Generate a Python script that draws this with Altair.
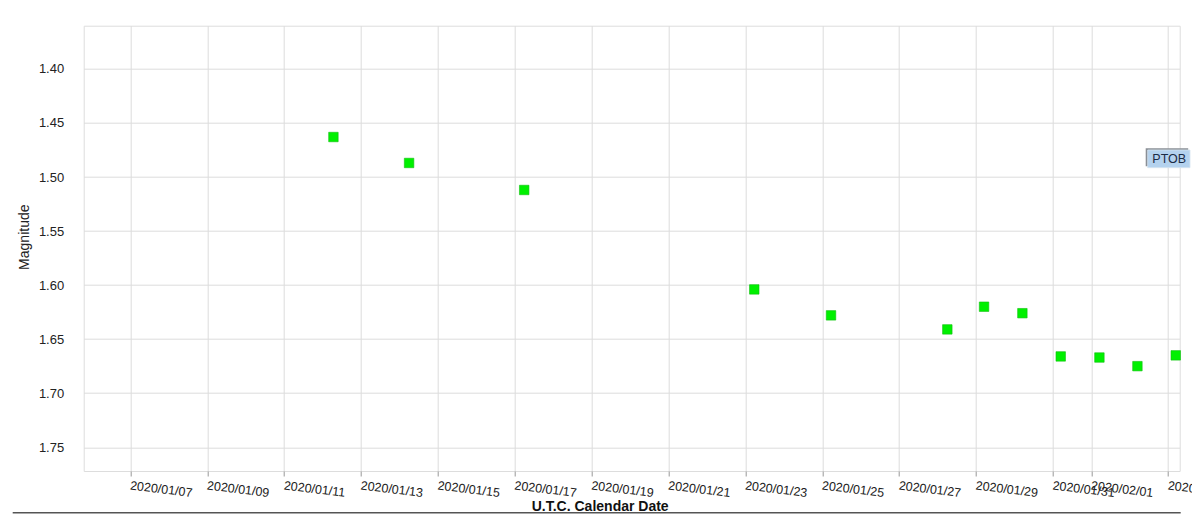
import altair as alt
import pandas as pd

# Observation times (UTC) and visual magnitudes
obs_times = [
    "2020-01-12T06:45:00Z", "2020-01-14T06:00:00Z", "2020-01-17T05:53:00Z",
    "2020-01-23T05:33:00Z", "2020-01-25T05:28:00Z", "2020-01-28T06:06:00Z",
    "2020-01-29T05:02:00Z", "2020-01-30T04:58:00Z", "2020-01-31T04:54:00Z",
    "2020-02-01T05:04:00Z", "2020-02-02T04:48:00Z", "2020-02-03T04:44:00Z",
]
magnitudes = [1.463, 1.487, 1.512, 1.604, 1.628, 1.641,
              1.620, 1.626, 1.666, 1.667, 1.675, 1.665]
observer = ["PTOB"] * len(magnitudes)
y_ticks = [1.40, 1.45, 1.50, 1.55, 1.60, 1.65, 1.70, 1.75]

df = pd.DataFrame({"date": obs_times, "mag": magnitudes, "obs": observer})
legend_df = pd.DataFrame({"obs": [observer[0]]})

FONT = "Liberation Sans"
W, H = 1096, 445.3

points = alt.Chart(df).mark_square(size=90, opacity=1, fill="#00f000",
                                   stroke="#10c010", strokeWidth=0.6).encode(
    x=alt.X("date:T",
            scale=alt.Scale(type="utc",
                            domain=[alt.DateTime(year=2020, month=1, date=5, hours=18, minutes=49, utc=True),
                                    alt.DateTime(year=2020, month=2, date=3, hours=7, minutes=12, utc=True)]),
            axis=alt.Axis(title="U.T.C. Calendar Date", format="%Y/%m/%d",
                          tickCount={"interval": "day", "step": 2},
                          labelAngle=7, labelAlign="left", labelBaseline="top",
                          labelPadding=3, labelOverlap=False, labelFlush=False,
                          labelFontSize=12.5, labelColor="#222", labelFont=FONT,
                          tickSize=5, tickColor="#999", domain=False,
                          grid=True, gridColor="#dcdcdc", gridWidth=1,
                          titleFont=FONT, titleFontSize=14, titleFontWeight="bold",
                          titleColor="#111", titleX=516, titleY=39.7,
                          titleAlign="center", titleBaseline="alphabetic")),
    y=alt.Y("mag:Q",
            scale=alt.Scale(domain=[1.36, 1.772], reverse=True, nice=False, zero=False),
            axis=alt.Axis(title="Magnitude", values=y_ticks, format=".2f",
                          labelFontSize=13, labelColor="#222", labelFont=FONT,
                          labelPadding=20, ticks=False, domain=False,
                          grid=True, gridColor="#dcdcdc", gridWidth=1,
                          titleFont=FONT, titleFontSize=14, titleFontWeight="normal",
                          titleColor="#222", titleX=-55, titleY=211,
                          titleAngle=-90, titleAlign="center", titleBaseline="alphabetic")),
)

# series label box ("PTOB") at the right edge
box_shadow = alt.Chart(legend_df).mark_rect(color="#8a8f96").encode(
    x=alt.value(1062), x2=alt.value(1104.5), y=alt.value(122.5), y2=alt.value(140.5))
box = alt.Chart(legend_df).mark_rect(color="#b4d2ee", stroke="#d6e4f0", strokeWidth=0.8).encode(
    x=alt.value(1064), x2=alt.value(1106.3), y=alt.value(124.3), y2=alt.value(142))
box_text = alt.Chart(legend_df).mark_text(font=FONT, fontSize=12.5, color="#1b2b45",
                                          align="center", baseline="middle").encode(
    text="obs:N", x=alt.value(1085.5), y=alt.value(133.6))

bottom_line = alt.Chart(legend_df).mark_rule(
    color="#555", strokeWidth=1.5).encode(
    x=alt.value(-71), x2=alt.value(1097), y=alt.value(487))

chart = alt.layer(points, box_shadow, box, box_text, bottom_line).properties(
    width=W, height=H,
    autosize=alt.AutoSizeParams(type="none"),
    padding={"left": 75.7, "top": 17.7, "right": 12.3, "bottom": 45},
).configure_view(stroke="#8c8c8c", strokeWidth=1.5).configure(background="white")

chart.save("out.html", embed_options={"renderer": "svg", "actions": False})
